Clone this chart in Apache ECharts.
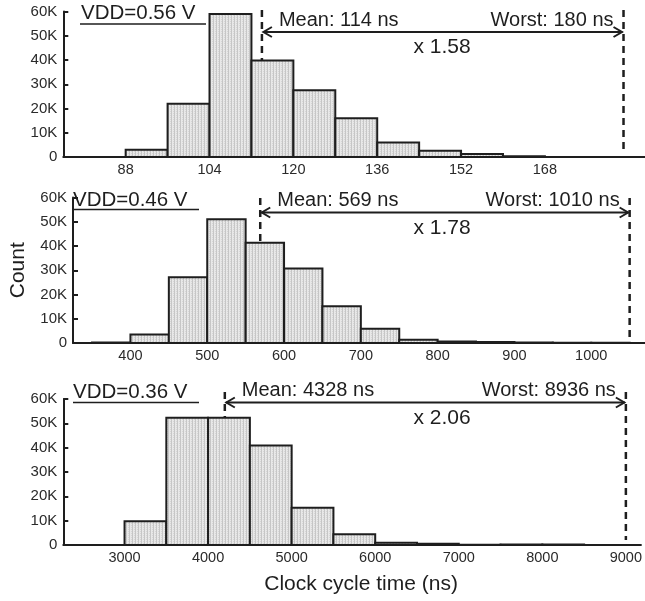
<!DOCTYPE html>
<html>
<head>
<meta charset="utf-8">
<script src="https://cdn.jsdelivr.net/npm/echarts@6.0.0/dist/echarts.min.js"></script>
<style>
    html, body { margin: 0; padding: 0; background: #fff; }
    #clockCharts { width: 645px; height: 601px; }
</style>
</head>
<body>
<div id="clockCharts"></div>
<script>
    // histogram bin edges / counts, one set per supply voltage
    const edges1 = [88, 96, 104, 112, 120, 128, 136, 144, 152, 160, 168]
    const counts1 = [3000, 22000, 59000, 39800, 27500, 16000, 6000, 2600, 1200, 300]
    const edges2 = [350, 400, 450, 500, 550, 600, 650, 700, 750, 800, 850, 900, 950, 1000, 1050]
    const counts2 = [200, 3500, 27100, 51000, 41300, 30700, 15200, 5900, 1300, 600, 400, 200, 100, 100]
    const edges3 = [3000, 3500, 4000, 4500, 5000, 5500, 6000, 6500, 7000, 7500, 8000, 8500, 9000]
    const counts3 = [9800, 52300, 52300, 40900, 15300, 4400, 900, 500, 100, 250, 250, 50]

    // tick labels
    const ticks1 = [88, 104, 120, 136, 152, 168]
    const ticks2 = [400, 500, 600, 700, 800, 900, 1000]
    const ticks3 = [3000, 4000, 5000, 6000, 7000, 8000, 9000]
    const yTicks = [0, 10000, 20000, 30000, 40000, 50000, 60000]

    // annotations
    const vddLabels = ['VDD=0.56 V', 'VDD=0.46 V', 'VDD=0.36 V']
    const meanLabels = ['Mean: 114 ns', 'Mean: 569 ns', 'Mean: 4328 ns']
    const worstLabels = ['Worst: 180 ns', 'Worst: 1010 ns', 'Worst: 8936 ns']
    const ratioLabels = ['x 1.58', 'x 1.78', 'x 2.06']
    const meanAt = [114, 569, 4200]
    const worstAt = [183, 1050, 9000]

    const edges = [edges1, edges2, edges3]
    const counts = [counts1, counts2, counts3]
    const ticks = [ticks1, ticks2, ticks3]

    // layout of the three panels (px)
    const panels = [
        {top: 11.5, height: 145.5, xMin: 76.1, xMax: 187.1, arrowY: 32, dashTop: 10, vddX: 81, vddY: 14, lineX: 80, lineY: 24},
        {top: 197.5, height: 145.5, xMin: 325.2, xMax: 1070, arrowY: 212.5, dashTop: 198, vddX: 73, vddY: 200.5, lineX: 73, lineY: 209.5},
        {top: 399, height: 146, xMin: 2267, xMax: 9180, arrowY: 402.5, dashTop: 392, vddX: 73, vddY: 393, lineX: 73, lineY: 402.5}
    ]

    const FONT = '"Liberation Sans", Arial, Helvetica, sans-serif'
    const INK = '#1e1e1e'

    // light grey vertical hatch like the original fill
    function makeHatch() {
        const c = document.createElement('canvas')
        c.width = 3
        c.height = 2
        const ctx = c.getContext('2d')
        ctx.fillStyle = '#e8e8e8'
        ctx.fillRect(0, 0, 3, 2)
        ctx.fillStyle = '#c6c6c6'
        ctx.fillRect(0, 0, 1, 2)
        ctx.fillStyle = '#d6d6d6'
        ctx.fillRect(2, 1, 1, 1)
        return c
    }
    const hatch = {image: makeHatch(), repeat: 'repeat'}

    const grid = [], xAxis = [], yAxis = [], series = [], graphic = []

    panels.forEach((p, i) => {
        grid.push({left: 63.3, right: 0, top: p.top, height: p.height})
        xAxis.push({
            type: 'value',
            gridIndex: i,
            min: p.xMin,
            max: p.xMax,
            splitLine: {show: false},
            axisTick: {show: false},
            axisLine: {lineStyle: {color: INK, width: 2}},
            axisLabel: {
                customValues: ticks[i],
                formatter: v => String(v),
                color: '#2a2a2a',
                fontSize: 14.5,
                fontFamily: FONT,
                margin: 5
            },
            name: i === 2 ? 'Clock cycle time (ns)' : '',
            nameLocation: 'middle',
            nameGap: 29,
            nameTextStyle: {fontSize: 21, fontFamily: FONT, color: INK, padding: [0, 0, 0, 18]}
        })
        yAxis.push({
            type: 'value',
            gridIndex: i,
            min: 0,
            max: 60000,
            interval: 10000,
            splitLine: {show: false},
            axisLine: {show: true, lineStyle: {color: INK, width: 2}},
            axisTick: {show: true, inside: true, length: 5, lineStyle: {color: INK, width: 2}},
            axisLabel: {
                customValues: yTicks,
                formatter: v => v === 0 ? '0' : (v / 1000) + 'K',
                color: '#2a2a2a',
                fontSize: 15,
                fontFamily: FONT,
                margin: 6
            },
            name: i === 1 ? 'Count' : '',
            nameLocation: 'middle',
            nameGap: 44,
            nameTextStyle: {fontSize: 21, fontFamily: FONT, color: INK}
        })

        // histogram bars
        const binData = counts[i].map((c, k) => [edges[i][k], edges[i][k + 1], c])
        series.push({
            type: 'custom',
            xAxisIndex: i,
            yAxisIndex: i,
            data: binData,
            encode: {x: [0, 1], y: 2},
            renderItem: (params, api) => {
                const p0 = api.coord([api.value(0), 0])
                const p1 = api.coord([api.value(1), api.value(2)])
                return {
                    type: 'rect',
                    shape: {x: p0[0], y: p1[1], width: p1[0] - p0[0], height: p0[1] - p1[1]},
                    style: {fill: hatch, stroke: INK, lineWidth: 2}
                }
            },
            z: 2
        })

        // mean / worst markers with the double arrow
        const k = edges[i].findIndex((e, j) => meanAt[i] >= e && meanAt[i] < edges[i][j + 1])
        series.push({
            type: 'custom',
            xAxisIndex: i,
            yAxisIndex: i,
            data: [[meanAt[i], worstAt[i], counts[i][k]]],
            encode: {x: [0, 1]},
            clip: false,
            z: 5,
            renderItem: (params, api) => {
                const m = api.coord([api.value(0), api.value(2)])
                const w = api.coord([api.value(1), 0])
                const ay = p.arrowY
                const dash = {stroke: INK, lineWidth: 2.5, lineDash: [7, 5]}
                const solid = {stroke: INK, lineWidth: 2, fill: null}
                const txt = (x, y, s, align, size) => ({
                    type: 'text',
                    style: {x: x, y: y, text: s, fill: INK, font: size + 'px ' + FONT, align: align, verticalAlign: 'middle'}
                })
                return {
                    type: 'group',
                    children: [
                        {type: 'line', shape: {x1: m[0], y1: p.dashTop, x2: m[0], y2: m[1]}, style: dash},
                        {type: 'line', shape: {x1: w[0], y1: p.dashTop, x2: w[0], y2: w[1] - 5}, style: dash},
                        {type: 'line', shape: {x1: m[0] + 1, y1: ay, x2: w[0] - 1, y2: ay}, style: solid},
                        {type: 'polyline', shape: {points: [[m[0] + 10, ay - 5], [m[0] + 1.5, ay], [m[0] + 10, ay + 5]]}, style: solid},
                        {type: 'polyline', shape: {points: [[w[0] - 10, ay - 5], [w[0] - 1.5, ay], [w[0] - 10, ay + 5]]}, style: solid},
                        txt(m[0] + 17, ay - 12, meanLabels[i], 'left', 20),
                        txt(w[0] - 10, ay - 12, worstLabels[i], 'right', 20),
                        txt(442, ay + 15.5, ratioLabels[i], 'center', 21)
                    ]
                }
            }
        })

        // VDD title with underline
        graphic.push({
            type: 'text',
            left: p.vddX,
            top: p.vddY - 11,
            style: {text: vddLabels[i], fill: INK, font: '20.5px ' + FONT}
        })
        graphic.push({
            type: 'line',
            shape: {x1: p.lineX, y1: p.lineY, x2: p.lineX + 126, y2: p.lineY},
            style: {stroke: INK, lineWidth: 1.5}
        })
    })

    const _clockCharts = {
        animation: false,
        backgroundColor: '#fff',
        grid: grid,
        xAxis: xAxis,
        yAxis: yAxis,
        series: series,
        graphic: graphic
    }

    const clockCharts = echarts.init(document.getElementById('clockCharts'))
    clockCharts.setOption(_clockCharts)
</script>
</body>
</html>
